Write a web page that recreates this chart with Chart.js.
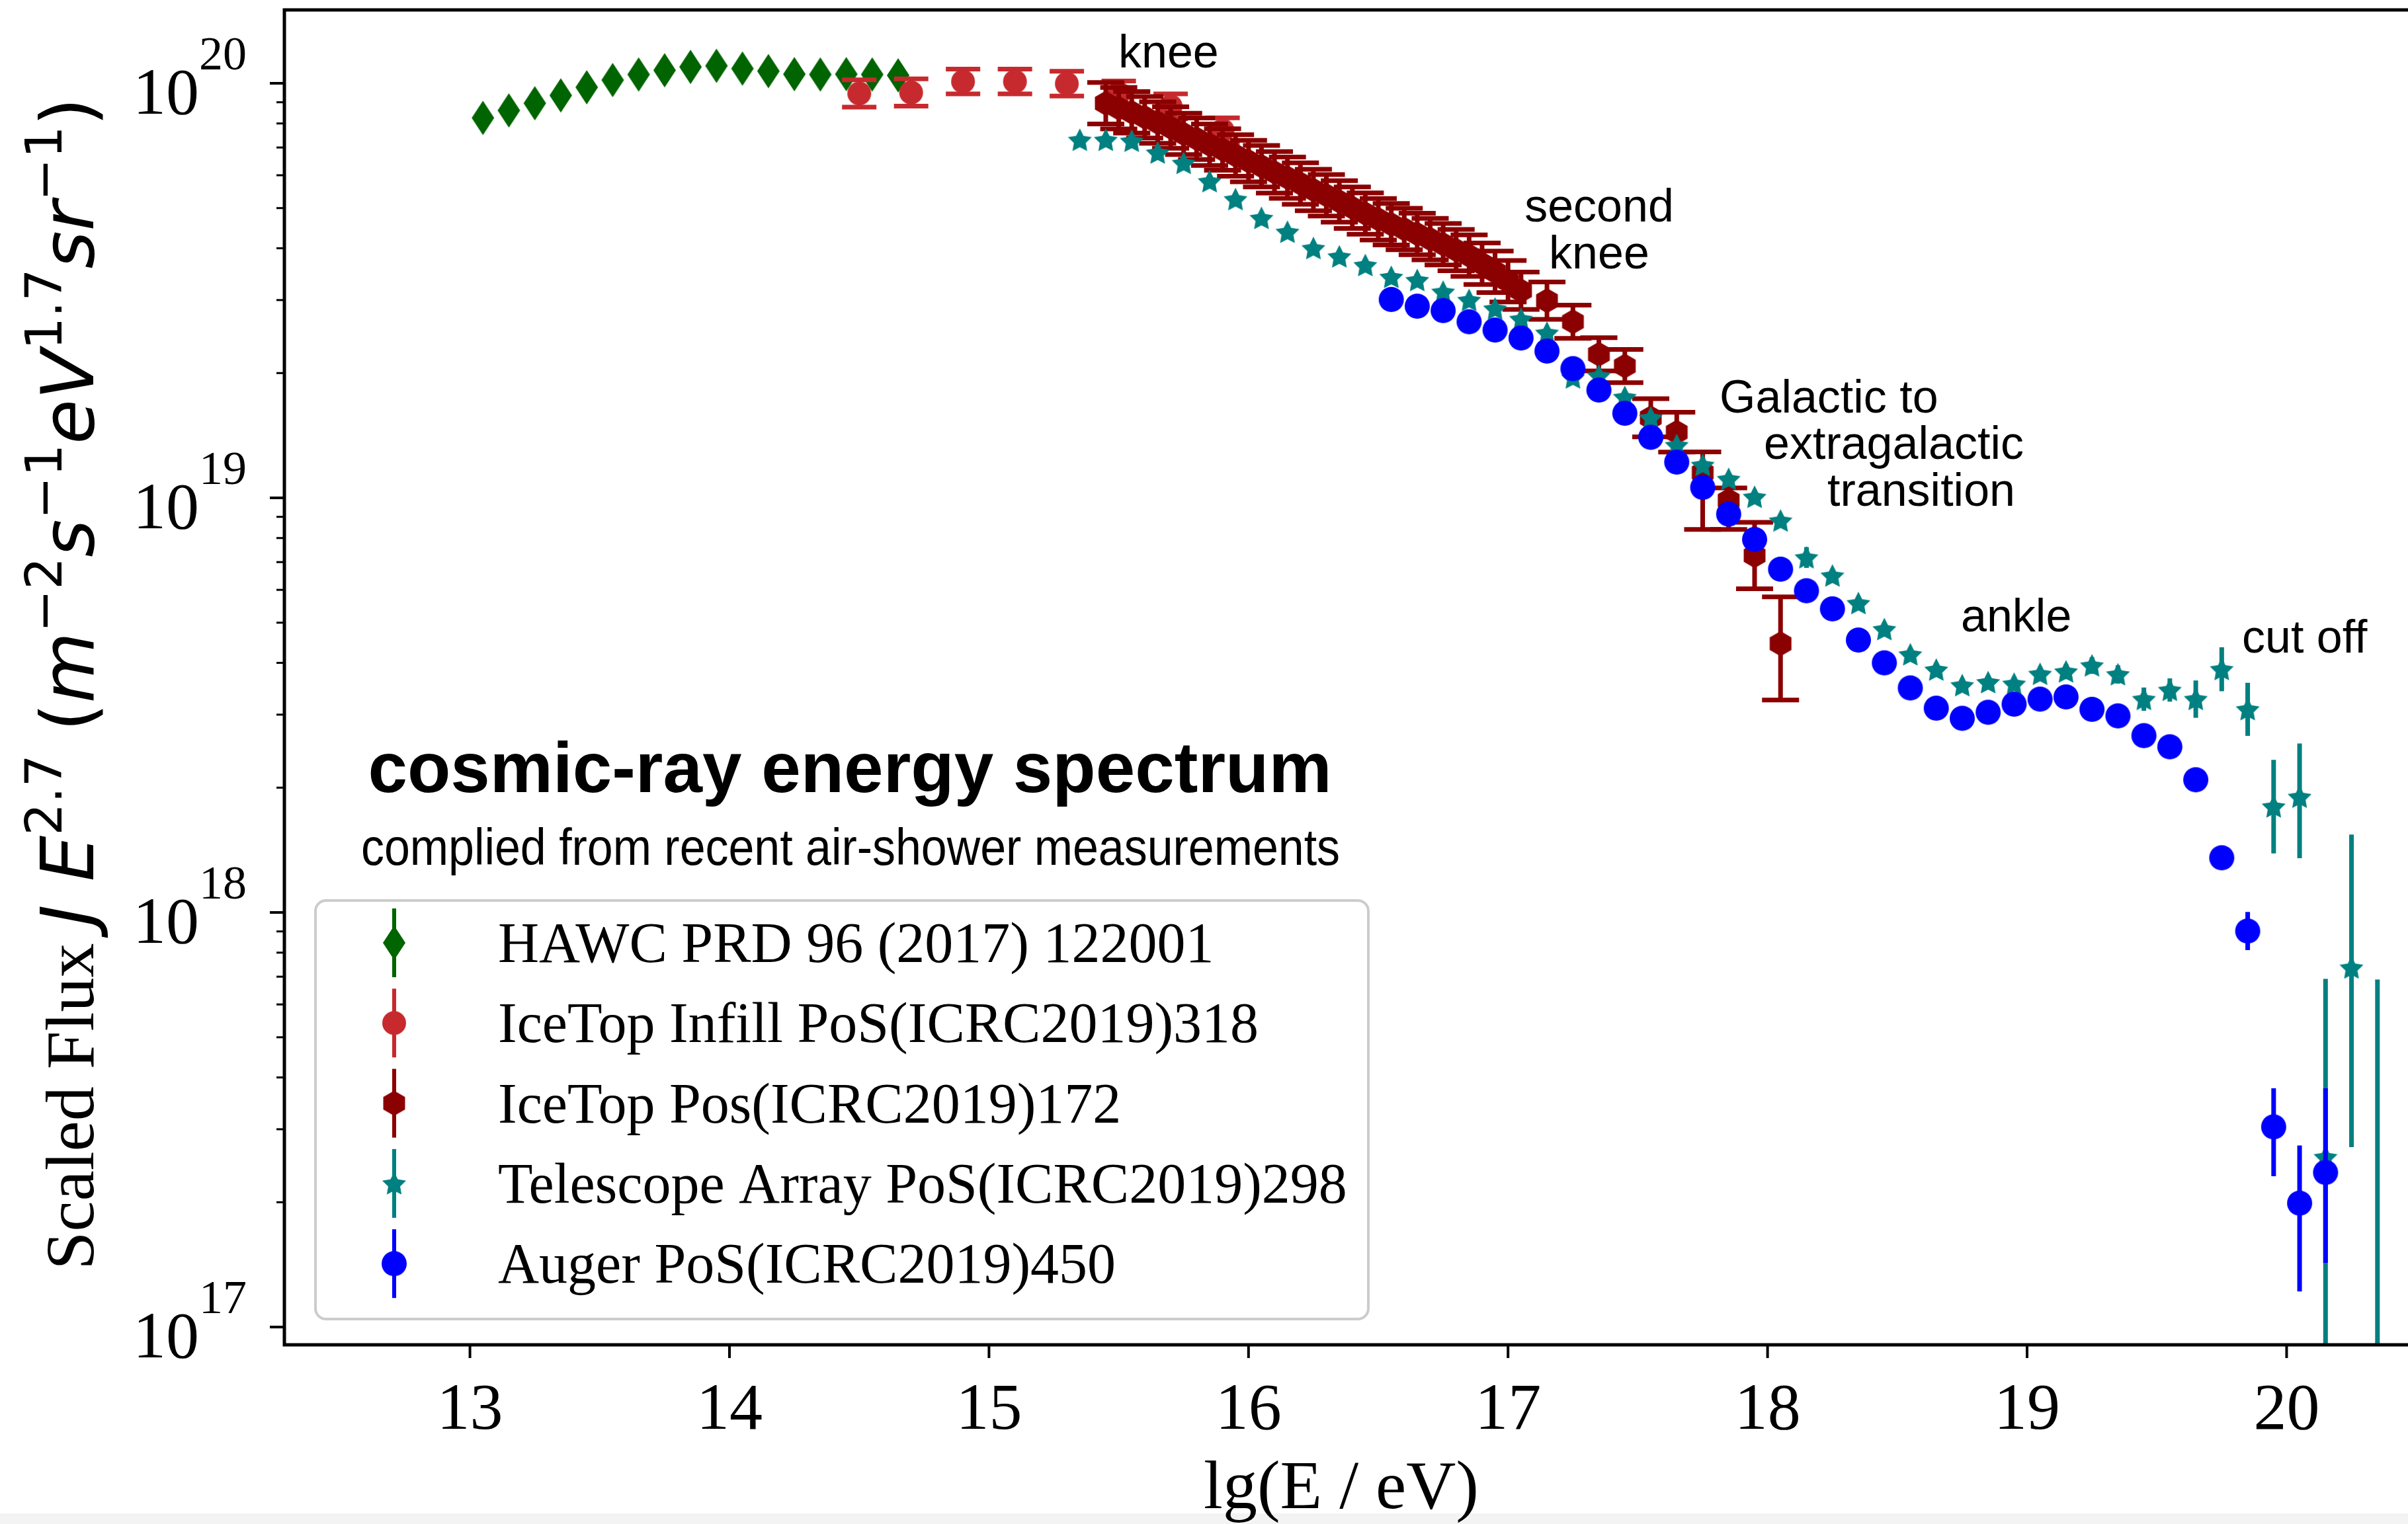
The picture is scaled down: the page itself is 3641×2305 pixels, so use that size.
<!DOCTYPE html>
<html>
<head>
<meta charset="utf-8">
<title>cosmic-ray energy spectrum</title>
<script src="https://cdn.jsdelivr.net/npm/chart.js@4.4.1/dist/chart.umd.min.js"></script>
<style>
  html, body { margin: 0; padding: 0; background: #fff; overflow: hidden; }
  #wrap { width: 3641px; height: 2305px; position: relative; }
</style>
</head>
<body>
<div id="wrap"><canvas id="spectrum"></canvas></div>
<script>
// lg(E/eV) and scaled flux J*E^2.7; errors are in dex (log10 units)
let hawcX = [13.05, 13.15, 13.25, 13.35, 13.45, 13.55, 13.65, 13.75, 13.85, 13.95, 14.05, 14.15, 14.25, 14.35, 14.45, 14.55, 14.65];
let hawcY = [8.25e19, 8.60e19, 8.95e19, 9.35e19, 9.78e19, 1.018e20, 1.050e20, 1.075e20, 1.095e20, 1.102e20, 1.085e20, 1.070e20, 1.052e20, 1.050e20, 1.052e20, 1.050e20, 1.045e20];

let infillX = [14.5, 14.7, 14.9, 15.1, 15.3, 15.5, 15.7, 15.9];
let infillY = [9.45e19, 9.50e19, 1.010e20, 1.010e20, 9.98e19, 9.45e19, 8.80e19, 7.70e19];
let infillErr = [0.033, 0.033, 0.03, 0.03, 0.03, 0.03, 0.03, 0.03];

let icetopX = [15.45, 15.5, 15.55, 15.6, 15.65, 15.7, 15.75, 15.8, 15.85, 15.9, 15.95, 16.0, 16.05, 16.1, 16.15, 16.2,
               16.25, 16.3, 16.35, 16.4, 16.45, 16.5, 16.55, 16.6, 16.65, 16.7, 16.75, 16.8, 16.85, 16.9, 16.95, 17.0,
               17.05, 17.15, 17.25, 17.35, 17.45, 17.55, 17.65, 17.75, 17.85, 17.95, 18.05];
let icetopY = [8.95e19, 8.71e19, 8.51e19, 8.28e19, 8.04e19, 7.82e19, 7.55e19, 7.35e19, 7.11e19, 6.92e19, 6.70e19, 6.49e19, 6.31e19, 6.10e19, 5.92e19, 5.73e19,
               5.53e19, 5.37e19, 5.19e19, 5.01e19, 4.85e19, 4.70e19, 4.57e19, 4.45e19, 4.33e19, 4.21e19, 4.09e19, 3.96e19, 3.84e19, 3.67e19, 3.51e19, 3.33e19,
               3.16e19, 2.99e19, 2.66e19, 2.22e19, 2.08e19, 1.56e19, 1.44e19, 1.15e19, 9.86e18, 7.26e18, 4.45e18];
let icetopErrUp = [0.05, 0.05, 0.05, 0.05, 0.05, 0.05, 0.05, 0.05, 0.05, 0.05, 0.05, 0.05, 0.05, 0.05, 0.05, 0.05,
                   0.05, 0.05, 0.05, 0.05, 0.05, 0.05, 0.05, 0.05, 0.05, 0.05, 0.05, 0.05, 0.05, 0.05, 0.05, 0.05,
                   0.045, 0.045, 0.04, 0.04, 0.04, 0.046, 0.048, 0.05, 0.03, 0.08, 0.113];
let icetopErrDn = [0.05, 0.05, 0.05, 0.05, 0.05, 0.05, 0.05, 0.05, 0.05, 0.05, 0.05, 0.05, 0.05, 0.05, 0.05, 0.05,
                   0.05, 0.05, 0.05, 0.05, 0.05, 0.05, 0.05, 0.05, 0.05, 0.05, 0.05, 0.05, 0.05, 0.05, 0.05, 0.05,
                   0.045, 0.045, 0.04, 0.04, 0.04, 0.046, 0.048, 0.137, 0.07, 0.08, 0.136];

let taX = [15.35, 15.45, 15.55, 15.65, 15.75, 15.85, 15.95, 16.05, 16.15, 16.25, 16.35, 16.45, 16.55, 16.65, 16.75, 16.85, 16.95,
           17.05, 17.15, 17.25, 17.35, 17.45, 17.55, 17.65, 17.75, 17.85, 17.95, 18.05, 18.15, 18.25, 18.35, 18.45, 18.55, 18.65,
           18.75, 18.85, 18.95, 19.05, 19.15, 19.25, 19.35, 19.45, 19.55, 19.65, 19.75, 19.85, 19.95, 20.05, 20.15, 20.25, 20.35];
let taY = [7.30e19, 7.30e19, 7.26e19, 6.80e19, 6.42e19, 5.80e19, 5.25e19, 4.73e19, 4.38e19, 4.00e19, 3.82e19, 3.64e19, 3.41e19, 3.35e19, 3.14e19, 3.00e19, 2.86e19,
           2.70e19, 2.50e19, 1.95e19, 1.97e19, 1.75e19, 1.56e19, 1.34e19, 1.20e19, 1.11e19, 1.005e19, 8.81e18, 7.18e18, 6.49e18, 5.57e18, 4.82e18, 4.19e18, 3.85e18,
           3.53e18, 3.59e18, 3.56e18, 3.76e18, 3.81e18, 3.94e18, 3.75e18, 3.27e18, 3.44e18, 3.27e18, 3.86e18, 3.09e18, 1.80e18, 1.90e18, 2.57e17, 7.36e17, 6.0e16];
let taErrUp = [0.01, 0.01, 0.01, 0.01, 0.01, 0.01, 0.01, 0.01, 0.01, 0.01, 0.01, 0.01, 0.01, 0.01, 0.01, 0.01, 0.01,
               0.01, 0.01, 0.01, 0.01, 0.01, 0.01, 0.01, 0.01, 0.01, 0.01, 0.01, 0.025, 0.01, 0.012, 0.012, 0.014, 0.014,
               0.015, 0.015, 0.016, 0.016, 0.018, 0.02, 0.022, 0.028, 0.028, 0.045, 0.053, 0.064, 0.113, 0.129, 0.43, 0.321, 1.06];
let taErrDn = [0.01, 0.01, 0.01, 0.01, 0.01, 0.01, 0.01, 0.01, 0.01, 0.01, 0.01, 0.01, 0.01, 0.01, 0.01, 0.01, 0.01,
               0.01, 0.01, 0.01, 0.01, 0.01, 0.01, 0.01, 0.01, 0.01, 0.01, 0.01, 0.025, 0.01, 0.012, 0.012, 0.014, 0.014,
               0.015, 0.015, 0.016, 0.016, 0.018, 0.02, 0.022, 0.028, 0.028, 0.045, 0.053, 0.064, 0.113, 0.148, 1.5, 0.433, 1.0];

let augerX = [16.55, 16.65, 16.75, 16.85, 16.95, 17.05, 17.15, 17.25, 17.35, 17.45, 17.55, 17.65, 17.75, 17.85, 17.95, 18.05, 18.15, 18.25, 18.35,
              18.45, 18.55, 18.65, 18.75, 18.85, 18.95, 19.05, 19.15, 19.25, 19.35, 19.45, 19.55, 19.65, 19.75, 19.85, 19.95, 20.05, 20.15];
let augerY = [3.01e19, 2.90e19, 2.83e19, 2.66e19, 2.54e19, 2.43e19, 2.26e19, 2.05e19, 1.82e19, 1.60e19, 1.40e19, 1.22e19, 1.06e19, 9.14e18, 7.94e18, 6.73e18, 5.97e18, 5.40e18, 4.54e18,
              4.00e18, 3.48e18, 3.11e18, 2.94e18, 3.04e18, 3.18e18, 3.27e18, 3.31e18, 3.09e18, 2.98e18, 2.67e18, 2.51e18, 2.09e18, 1.355e18, 9.02e17, 3.04e17, 1.99e17, 2.36e17];
let augerErrUp = [0.005, 0.005, 0.005, 0.005, 0.005, 0.005, 0.005, 0.005, 0.005, 0.005, 0.005, 0.005, 0.005, 0.005, 0.005, 0.005, 0.005, 0.005, 0.005,
                  0.005, 0.005, 0.005, 0.005, 0.005, 0.005, 0.005, 0.005, 0.005, 0.005, 0.005, 0.008, 0.01, 0.015, 0.046, 0.093, 0.139, 0.203];
let augerErrDn = [0.005, 0.005, 0.005, 0.005, 0.005, 0.005, 0.005, 0.005, 0.005, 0.005, 0.005, 0.005, 0.005, 0.005, 0.005, 0.005, 0.005, 0.005, 0.005,
                  0.005, 0.005, 0.005, 0.005, 0.005, 0.005, 0.005, 0.005, 0.005, 0.005, 0.005, 0.008, 0.01, 0.015, 0.046, 0.119, 0.213, 0.218];

let seriesLabels = ['HAWC PRD 96 (2017) 122001', 'IceTop Infill PoS(ICRC2019)318', 'IceTop Pos(ICRC2019)172',
                    'Telescope Array PoS(ICRC2019)298', 'Auger PoS(ICRC2019)450'];
let xTickLabels = ['13', '14', '15', '16', '17', '18', '19', '20'];
let yTickExps = ['17', '18', '19', '20'];
let notes = [
    {lines: ['knee'], x: 1691, y: 102, align: 'left'},
    {lines: ['second', 'knee'], x: 2418, y: 335, align: 'center'},
    {lines: ['Galactic to'], x: 2600, y: 624, align: 'left'},
    {lines: ['extragalactic'], x: 2667, y: 694, align: 'left'},
    {lines: ['transition'], x: 2763, y: 765, align: 'left'},
    {lines: ['ankle'], x: 2965, y: 955, align: 'left'},
    {lines: ['cut off'], x: 3390, y: 987, align: 'left'}
];

const SERIF = '"Liberation Serif", "Times New Roman", serif';
const SANS = '"Liberation Sans", Arial, sans-serif';
const MATH = '"DejaVu Sans", sans-serif';

function marker(kind, color, size) {
    const c = document.createElement('canvas');
    if (kind === 'diamond') { c.width = 36; c.height = 54; }
    else { c.width = size + 2; c.height = size + 2; }
    const g = c.getContext('2d');
    const cx = c.width / 2, cy = c.height / 2, r = size / 2;
    g.fillStyle = color;
    g.beginPath();
    if (kind === 'diamond') {
        g.moveTo(18, 1); g.lineTo(35, 27); g.lineTo(18, 53); g.lineTo(1, 27);
    } else if (kind === 'hexagon') {
        for (let k = 0; k < 6; k++) {
            const a = -Math.PI / 2 + k * Math.PI / 3;
            g.lineTo(cx + r * Math.cos(a), cy + r * Math.sin(a));
        }
    } else if (kind === 'star') {
        for (let k = 0; k < 10; k++) {
            const a = -Math.PI / 2 + k * Math.PI / 5;
            const rr = k % 2 ? r * 0.5 : r;
            g.lineTo(cx + rr * Math.cos(a), cy + 1.5 + rr * Math.sin(a));
        }
    } else {
        g.arc(cx, cy, r, 0, Math.PI * 2);
    }
    g.closePath();
    g.fill();
    return c;
}

function points(xs, ys) {
    return xs.map((x, i) => ({x: x, y: ys[i]}));
}

const colors = ['#006400', '#c62a2e', '#8b0000', '#008080', '#0000ff'];
const markers = [
    marker('diamond', colors[0]),
    marker('circle', colors[1], 36),
    marker('hexagon', colors[2], 38),
    marker('star', colors[3], 38),
    marker('circle', colors[4], 38)
];

const datasets = [
    {label: seriesLabels[0], data: points(hawcX, hawcY), order: 5},
    {label: seriesLabels[1], data: points(infillX, infillY), order: 4, errUp: infillErr, errDn: infillErr, cap: 52},
    {label: seriesLabels[2], data: points(icetopX, icetopY), order: 3, errUp: icetopErrUp, errDn: icetopErrDn, cap: 56},
    {label: seriesLabels[3], data: points(taX, taY), order: 2, errUp: taErrUp, errDn: taErrDn, cap: 0},
    {label: seriesLabels[4], data: points(augerX, augerY), order: 1, errUp: augerErrUp, errDn: augerErrDn, cap: 0}
];
datasets.forEach((d, i) => {
    d.pointStyle = markers[i];
    d.backgroundColor = colors[i];
    d.borderColor = colors[i];
    d.clip = 0;
    d.errColor = colors[i];
});

const spectrumPlugin = {
    id: 'spectrum',
    beforeDraw(chart) {
        const ctx = chart.ctx;
        ctx.save();
        ctx.fillStyle = '#ffffff';
        ctx.fillRect(0, 0, chart.width, chart.height);
        ctx.fillStyle = '#f3f3f3';
        ctx.fillRect(0, 2289, chart.width, chart.height - 2289);
        ctx.restore();
    },
    beforeDatasetDraw(chart, args) {
        const ds = chart.data.datasets[args.index];
        if (!ds.errUp) return;
        const ctx = chart.ctx, a = chart.chartArea;
        const xs = chart.scales.x, ys = chart.scales.y;
        ctx.save();
        ctx.beginPath();
        ctx.rect(a.left, a.top, a.right - a.left, a.bottom - a.top);
        ctx.clip();
        ctx.strokeStyle = ds.errColor;
        ctx.lineWidth = 7;
        ds.data.forEach((p, i) => {
            const px = xs.getPixelForValue(p.x);
            const top = ys.getPixelForValue(p.y * Math.pow(10, ds.errUp[i]));
            const bot = ys.getPixelForValue(p.y / Math.pow(10, ds.errDn[i]));
            ctx.beginPath();
            ctx.moveTo(px, top); ctx.lineTo(px, bot);
            if (ds.cap) {
                ctx.moveTo(px - ds.cap / 2, top); ctx.lineTo(px + ds.cap / 2, top);
                ctx.moveTo(px - ds.cap / 2, bot); ctx.lineTo(px + ds.cap / 2, bot);
            }
            ctx.stroke();
        });
        ctx.restore();
    },
    afterDraw(chart) {
        const ctx = chart.ctx, a = chart.chartArea;
        const xs = chart.scales.x, ys = chart.scales.y;
        ctx.save();

        // spines (no right spine: the picture is cut at the right edge)
        ctx.strokeStyle = '#000';
        ctx.lineWidth = 5;
        ctx.beginPath();
        ctx.moveTo(a.right + 5, a.top); ctx.lineTo(a.left, a.top);
        ctx.lineTo(a.left, a.bottom); ctx.lineTo(a.right + 5, a.bottom);
        ctx.stroke();

        // x ticks and labels
        ctx.fillStyle = '#000';
        ctx.textAlign = 'center';
        ctx.textBaseline = 'alphabetic';
        ctx.font = '100px ' + SERIF;
        ctx.lineWidth = 4;
        xTickLabels.forEach(t => {
            const px = xs.getPixelForValue(Number(t));
            ctx.beginPath(); ctx.moveTo(px, a.bottom); ctx.lineTo(px, a.bottom + 20); ctx.stroke();
            ctx.fillText(t, px, a.bottom + 127);
        });

        // y ticks (major + minor) and 10^n labels
        for (let n = 16; n <= 20; n++) {
            for (let m = 1; m <= 9; m++) {
                const v = m * Math.pow(10, n);
                if (v < ys.min || v > ys.max) continue;
                const py = ys.getPixelForValue(v);
                const len = m === 1 ? 22 : 12;
                ctx.lineWidth = m === 1 ? 4 : 3;
                ctx.beginPath(); ctx.moveTo(a.left - len, py); ctx.lineTo(a.left, py); ctx.stroke();
            }
        }
        ctx.textAlign = 'left';
        yTickExps.forEach(e => {
            const py = ys.getPixelForValue(Math.pow(10, Number(e)));
            ctx.font = '72px ' + SERIF;
            const ew = ctx.measureText(e).width;
            ctx.font = '100px ' + SERIF;
            const bw = ctx.measureText('10').width;
            const right = a.left - 57;
            ctx.fillText('10', right - ew - bw, py + 46);
            ctx.font = '72px ' + SERIF;
            ctx.fillText(e, right - ew, py - 21);
        });

        // axis titles
        ctx.textAlign = 'center';
        ctx.font = '104px ' + SERIF;
        ctx.fillText('lg(E / eV)', 2028, 2281);

        ctx.save();
        ctx.translate(141, 1034);
        ctx.rotate(-Math.PI / 2);
        ctx.textAlign = 'left';
        const it = 'italic 110px ' + MATH, up = '77px ' + MATH, rm = '110px ' + MATH;
        const runs = [
            {t: 'Scaled Flux ', f: '104px ' + SERIF},
            {t: 'J E', f: it},
            {t: '2.7', f: up, r: 48},
            {t: ' (', f: rm},
            {t: 'm', f: it}, {t: '\u22122', f: up, r: 48},
            {t: 's', f: it}, {t: '\u22121', f: up, r: 48},
            {t: 'eV', f: it}, {t: '1.7', f: up, r: 48},
            {t: 'sr', f: it}, {t: '\u22121', f: up, r: 48},
            {t: ')', f: rm}
        ];
        let total = 0;
        runs.forEach(r => { ctx.font = r.f; r.w = ctx.measureText(r.t).width; total += r.w; });
        let cx = -total / 2;
        runs.forEach(r => { ctx.font = r.f; ctx.fillText(r.t, cx, -(r.r || 0)); cx += r.w; });
        ctx.restore();

        // annotations
        ctx.font = '70px ' + SANS;
        notes.forEach(n => {
            ctx.textAlign = n.align;
            n.lines.forEach((s, k) => ctx.fillText(s, n.x, n.y + k * 71));
        });

        // in-plot title
        ctx.textAlign = 'center';
        ctx.font = 'bold 107px ' + SANS;
        ctx.fillText('cosmic-ray energy spectrum', 1285, 1198);
        ctx.save();
        ctx.font = '77px ' + SANS;
        const sub = 'complied from recent air-shower measurements';
        const sw = ctx.measureText(sub).width;
        ctx.translate(1286, 1308);
        ctx.scale(1480 / sw, 1);
        ctx.fillText(sub, 0, 0);
        ctx.restore();

        // legend
        const L = {x: 477, y: 1362, w: 1592, h: 633};
        ctx.beginPath();
        ctx.roundRect(L.x, L.y, L.w, L.h, 16);
        ctx.fillStyle = 'rgba(255,255,255,0.85)';
        ctx.fill();
        ctx.strokeStyle = '#cccccc';
        ctx.lineWidth = 4;
        ctx.stroke();
        ctx.textAlign = 'left';
        ctx.font = '86px ' + SERIF;
        chart.data.datasets.forEach((ds, i) => {
            const cy = 1426 + i * 121.3;
            ctx.strokeStyle = colors[i];
            ctx.lineWidth = 6;
            ctx.beginPath(); ctx.moveTo(596, cy - 52); ctx.lineTo(596, cy + 52); ctx.stroke();
            const mk = markers[i];
            ctx.drawImage(mk, 596 - mk.width / 2, cy - mk.height / 2);
            ctx.fillStyle = '#000';
            ctx.fillText(ds.label, 753, cy + 29);
        });

        ctx.restore();
    }
};

new Chart(document.getElementById('spectrum'), {
    type: 'scatter',
    data: {datasets: datasets},
    options: {
        responsive: true,
        maintainAspectRatio: false,
        devicePixelRatio: 1,
        animation: false,
        events: [],
        layout: {padding: {left: 430, top: 15, right: 0, bottom: 271}},
        scales: {
            x: {type: 'linear', display: false, min: 12.285, max: 20.455},
            y: {type: 'logarithmic', display: false, min: 9.06e16, max: 1.503e20}
        },
        plugins: {
            legend: {display: false},
            tooltip: {enabled: false}
        }
    },
    plugins: [spectrumPlugin]
});
</script>
</body>
</html>
